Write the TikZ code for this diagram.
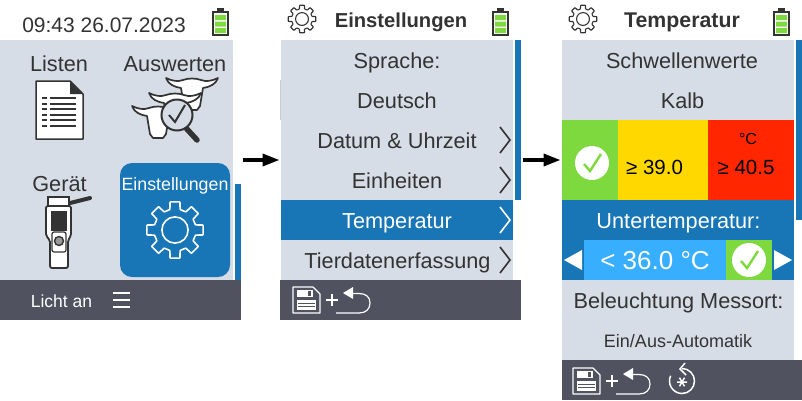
\documentclass[tikz,border=0pt]{standalone}
\usepackage{fontspec}
\setmainfont{Liberation Sans}
\usetikzlibrary{arrows.meta}
\definecolor{panelgray}{HTML}{D6DDE6}
\definecolor{barcol}{HTML}{50525F}
\definecolor{bluecol}{HTML}{1976B6}
\definecolor{skyblue}{HTML}{38AEFF}
\definecolor{okgreen}{HTML}{7ED93F}
\definecolor{warnyellow}{HTML}{FFD800}
\definecolor{alarmred}{HTML}{FF2600}
\definecolor{inkcol}{HTML}{333333}
\tikzset{
 x=1pt,y=-1pt,
 box/.style={inner sep=0pt,outer sep=0pt,draw=none,rectangle,anchor=north west},
 lbl/.style={inner sep=0pt,outer sep=0pt,anchor=base,text=inkcol,font=\fontsize{21.7}{24}\selectfont},
 wlbl/.style={lbl,text=white},
 flow/.style={line width=3.5pt,black,shorten <=1.5pt,shorten >=0.5pt,-{Triangle[length=17pt,width=12pt]}},
 ico/.style={draw=inkcol,line width=1.7pt,line join=round},
 chev/.style={line width=1.6pt,line join=miter,draw=#1},
}
% x y w h colour name
\newcommand{\rbox}[6]{\node[box,fill=#5,minimum width=#3pt,minimum height=#4pt] (#6) at (#1,#2) {};}
\newcommand{\batt}[2]{\begin{scope}[shift={(#1,#2)}]
 \fill[inkcol] (5,-4) -- (12,-4) -- (12,0) -- (5,0) -- cycle;
 \draw[inkcol,line width=1.6pt,fill=white] (1,0) rectangle (16,23);
 \fill[okgreen] (3,3) rectangle (14,8) (3,9.5) rectangle (14,14.5) (3,16) rectangle (14,21);
 \end{scope}}
\newcommand{\gearicon}[5]{\begin{scope}[shift={(#1,#2)},scale=#3]
 \draw[#4,line width=#5pt,line join=round,rounded corners=0.5pt]
  (-90-14:0.74) \foreach \a in {-90,-45,...,225}{
   -- (\a-14:0.74) -- (\a-10:1) -- (\a+10:1) -- (\a+14:0.74) } -- cycle;
 \draw[#4,line width=#5pt] (0,0) circle (0.46);
 \end{scope}}
\newcommand{\cow}[2]{\begin{scope}[shift={(#1,#2)}]
 \draw[ico,fill=white] (-26,0) .. controls (-20,3) and (-14,4) .. (-9,2) .. controls (-4,0) and (4,0) .. (9,2)
  .. controls (14,4) and (20,3) .. (26,0) .. controls (24,6) and (18,9) .. (11,10) -- (8,28) -- (5,32) -- (-5,32) -- (-8,28) -- (-11,10)
  .. controls (-18,9) and (-24,6) .. (-26,0) -- cycle;
 \end{scope}}
\newcommand{\savereturn}[2]{\begin{scope}[shift={(#1,#2)}]
 \draw[white,line width=1.2pt,line join=round] (0,0) -- (20,0) -- (27,7) -- (27,26) -- (0,26) -- cycle;
 \fill[white] (4,3) rectangle (20,10);
 \fill[barcol] (15,4) rectangle (18,9);
 \fill[white] (4,13) rectangle (23,23);
 \draw[barcol,line width=0.9pt] (5,16) -- (22,16) (5,19) -- (22,19);
 \draw[white,line width=2.2pt] (33,13) -- (45,13) (39,7) -- (39,19);
 \fill[white] (50,6) -- (60,0) -- (60,12) -- cycle;
 \draw[white,line width=1.2pt] (60,6.5) -- (66,6.5) .. controls (73,6.5) and (77,10) .. (77,16) .. controls (77,22) and (73,26) .. (66,26) -- (43,26);
 \end{scope}}
\begin{document}
\begin{tikzpicture}
\useasboundingbox (0,0) rectangle (802,400);
\fill[white] (0,0) rectangle (802,400);
% invisible screen frames
\node[box,minimum width=241pt,minimum height=240pt] (screenA) at (0,40) {};
\node[box,minimum width=241pt,minimum height=240pt] (screenB) at (280,40) {};
\node[box,minimum width=241pt,minimum height=240pt] (screenC) at (561,40) {};

% ---------- screen A
\rbox{0}{40}{233}{240}{panelgray}{bodyA}
\rbox{235}{184}{6}{96}{bluecol}{scrollA}
\rbox{0}{280}{241}{40}{barcol}{barA}
\node[lbl,font=\fontsize{21}{24}\selectfont] (timeA) at (104,32) {09:43 26.07.2023};
\batt{212}{12}
\node[lbl] (listen) at (59,71) {Listen};
\node[lbl] (ausw) at (175,71) {Auswerten};
\node[lbl] (geraet) at (59.5,191) {Gerät};
% document icon
\draw[inkcol,line width=1.5pt,fill=white,line join=round] (36,81) -- (70,81) -- (83,94) -- (83,139) -- (36,139) -- cycle;
\fill[inkcol] (70,81) -- (83,94) -- (70,94) -- cycle;
\foreach \yy in {98,104,109,115,120,126}{
 \draw[inkcol,line width=1.3pt] (42,\yy) -- (47,\yy) (50,\yy) -- (76,\yy);}
% cows and magnifier
\cow{192}{78}
\cow{175}{93}
\cow{158}{106}
\draw[inkcol,line width=5.5pt,line cap=round] (186,128) -- (197,140);
\draw[inkcol,line width=2pt,fill=panelgray] (177,115) circle (15.5);
\draw[inkcol,line width=2pt] (169,115) -- (175,122) -- (185,105);
% device
\draw[inkcol,line width=4pt,line cap=round] (70,203) -- (90,198);
\draw[inkcol,line width=1.5pt,fill=white] (48,197) rectangle (69,206);
\draw[inkcol,line width=1.8pt,fill=white,line join=round,rounded corners=2pt] (46,206) -- (71,206) -- (71,236) -- (68,240) -- (68,268) -- (50,268) -- (50,240) -- (46,236) -- cycle;
\fill[inkcol] (51,211) rectangle (67,231);
\draw[inkcol,line width=1.2pt,fill=white,rounded corners=2pt] (52,232) rectangle (66,252);
\draw[inkcol,line width=1.4pt,fill=inkcol!50] (59,241) circle (4.5);
% tile
\node[box,fill=bluecol,rounded corners=12pt,minimum width=110pt,minimum height=114pt] (tile) at (120,163) {};
\node[wlbl,font=\fontsize{17.8}{22}\selectfont] (tilelbl) at (175,190) {Einstellungen};
\gearicon{175}{230}{28.5}{white}{1.6}
\node[wlbl,font=\fontsize{17.5}{22}\selectfont] (licht) at (61.5,307) {Licht an};
\draw[white,line width=1.4pt] (113,293) -- (130,293) (113,300) -- (130,300) (113,307) -- (130,307);

% ---------- screen B
\rbox{281}{40}{232}{240}{panelgray}{bodyB}
\rbox{280}{80}{1}{40}{inkcol!25}{edgeB}
\rbox{515}{40}{6}{160}{bluecol}{scrollB}
\rbox{281}{200}{232}{40}{bluecol}{selB}
\rbox{280}{280}{241}{40}{barcol}{barB}
\gearicon{302}{19}{14}{inkcol}{1.1}
\node[lbl,font=\bfseries\fontsize{20.2}{24}\selectfont] (titleB) at (401,27) {Einstellungen};
\batt{492}{12}
\node[lbl] (sprache) at (397,68) {Sprache:};
\node[lbl] (deutsch) at (397,108) {Deutsch};
\node[lbl] (datum) at (397,148) {Datum \& Uhrzeit};
\node[lbl] (einh) at (397,188) {Einheiten};
\node[wlbl] (temp) at (397,228) {Temperatur};
\node[lbl] (tier) at (397.5,268) {Tierdatenerfassung};
\foreach \yy/\cc in {140/inkcol,180/inkcol,220/white,260/inkcol}{
 \draw[chev=\cc] (500,\yy-13) -- (510,\yy) -- (500,\yy+13);}
\savereturn{293}{287}

% ---------- screen C
\rbox{562}{40}{232}{320}{panelgray}{bodyC}
\rbox{796}{40}{6}{180}{bluecol}{scrollC}
\rbox{562}{120}{56}{80}{okgreen}{greenC}
\rbox{618}{120}{90}{80}{warnyellow}{yellowC}
\rbox{708}{120}{86}{80}{alarmred}{redC}
\rbox{562}{200}{232}{80}{bluecol}{blueC}
\rbox{584}{240}{142}{40}{skyblue}{skyC}
\rbox{726}{240}{46}{40}{okgreen}{okC}
\rbox{562}{360}{240}{40}{barcol}{barC}
\gearicon{583}{19}{14}{inkcol}{1.1}
\node[lbl,font=\bfseries\fontsize{21.3}{24}\selectfont] (titleC) at (682,27) {Temperatur};
\batt{773}{12}
\node[lbl] (schw) at (682,68) {Schwellenwerte};
\node[lbl] (kalb) at (682.5,108) {Kalb};
\node[lbl,text=black,font=\fontsize{20.5}{24}\selectfont] (yel) at (654.5,174) {≥ 39.0};
\node[lbl,text=black,font=\fontsize{20.5}{24}\selectfont] (rd) at (746,174) {≥ 40.5};
\node[lbl,text=black,font=\fontsize{16}{20}\selectfont] (degc) at (748,144) {°C};
\node[wlbl] (unter) at (678.5,228) {Untertemperatur:};
\node[wlbl,font=\fontsize{26}{30}\selectfont] (val) at (655,269) {< 36.0 °C};
\node[lbl] (bel) at (678.5,308) {Beleuchtung Messort:};
\node[lbl,font=\fontsize{18}{22}\selectfont] (auto) at (678,347) {Ein/Aus-Automatik};
\fill[white] (592,163) circle (17);
\draw[okgreen,line width=2.4pt] (584,164) -- (590,171) -- (601,154);
\fill[white] (749,260) circle (17);
\draw[okgreen,line width=2.4pt] (741,261) -- (747,268) -- (758,251);
\fill[white] (564,260) -- (582,250) -- (582,270) -- cycle;
\fill[white] (792,260) -- (774,250) -- (774,270) -- cycle;
\savereturn{573}{368}
% reset icon
\draw[white,line width=1.5pt] (682,368.5) arc[start angle=-90,end angle=205,radius=12.5];
\draw[white,line width=1.5pt] (685,363) -- (680,369) -- (686,375);
\draw[white,line width=1.5pt] (677,382) -- (687,382) (679.5,377.7) -- (684.5,386.3) (684.5,377.7) -- (679.5,386.3);

% connectors
\draw[flow] (screenA.east) -- (screenB.west);
\draw[flow] (screenB.east) -- (screenC.west);
\end{tikzpicture}
\end{document}
